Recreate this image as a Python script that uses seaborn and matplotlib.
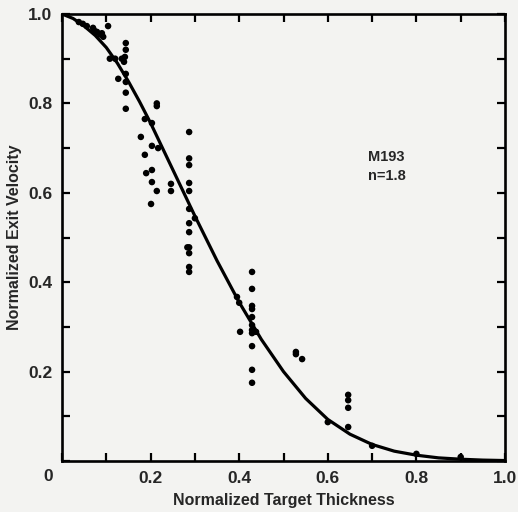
import numpy as np
import pandas as pd
import matplotlib
matplotlib.use("Agg")
import matplotlib.pyplot as plt
import seaborn as sns

# measured data points (normalized target thickness, normalized exit velocity)
thickness = [0.038, 0.047, 0.056, 0.070, 0.072, 0.079, 0.086, 0.090, 0.093, 0.104,
             0.108, 0.120, 0.127, 0.135, 0.140, 0.142, 0.144, 0.144, 0.144, 0.144,
             0.144, 0.144, 0.178, 0.187, 0.187, 0.190, 0.201, 0.203, 0.203, 0.203,
             0.203, 0.214, 0.214, 0.214, 0.217, 0.246, 0.246, 0.283, 0.287, 0.287,
             0.287, 0.287, 0.287, 0.287, 0.287, 0.287, 0.287, 0.287, 0.287, 0.287,
             0.300, 0.395, 0.400, 0.402, 0.429, 0.429, 0.429, 0.429, 0.429, 0.429,
             0.429, 0.429, 0.429, 0.429, 0.429, 0.438, 0.528, 0.528, 0.542, 0.600,
             0.646, 0.646, 0.646, 0.646, 0.700, 0.800, 0.900]
velocity = [0.982, 0.978, 0.973, 0.969, 0.964, 0.960, 0.954, 0.957, 0.949, 0.973,
            0.900, 0.900, 0.855, 0.900, 0.893, 0.904, 0.935, 0.920, 0.866, 0.848,
            0.824, 0.788, 0.725, 0.765, 0.685, 0.644, 0.575, 0.756, 0.705, 0.651,
            0.624, 0.794, 0.800, 0.604, 0.700, 0.620, 0.604, 0.478, 0.736, 0.677,
            0.662, 0.622, 0.604, 0.564, 0.532, 0.512, 0.478, 0.465, 0.434, 0.423,
            0.543, 0.367, 0.354, 0.289, 0.423, 0.385, 0.347, 0.340, 0.322, 0.304,
            0.293, 0.286, 0.257, 0.204, 0.175, 0.289, 0.244, 0.239, 0.228, 0.087,
            0.148, 0.136, 0.119, 0.076, 0.034, 0.016, 0.009]

# fitted curve
curve_x = [0.0, 0.025, 0.05, 0.075, 0.10, 0.125, 0.15, 0.175, 0.20, 0.25, 0.30,
           0.35, 0.40, 0.45, 0.50, 0.55, 0.60, 0.65, 0.70, 0.75, 0.80, 0.85,
           0.90, 0.95, 1.00]
curve_y = [1.0, 0.990, 0.973, 0.952, 0.925, 0.890, 0.849, 0.804, 0.756, 0.652,
           0.548, 0.448, 0.355, 0.272, 0.200, 0.140, 0.093, 0.060, 0.037, 0.022,
           0.013, 0.007, 0.004, 0.002, 0.001]

x_ticks_labeled = [0.2, 0.4, 0.6, 0.8, 1.0]
x_tick_labels = ["0.2", "0.4", "0.6", "0.8", "1.0"]
y_ticks_labeled = [0.2, 0.4, 0.6, 0.8, 1.0]
y_tick_labels = ["0.2", "0.4", "0.6", "0.8", "1.0"]
annotation = ["M193", "n=1.8"]

sns.set_style("ticks")
plt.rcParams['font.family'] = ['Liberation Sans', 'DejaVu Sans']

bg = "#f3f3f1"
fig = plt.figure(figsize=(5.18, 5.12), dpi=100, facecolor=bg)
ax = fig.add_axes([62/518, 51/512, 443/518, 447/512])
ax.set_facecolor(bg)

pts = pd.DataFrame({"x": thickness, "y": velocity})
crv = pd.DataFrame({"x": curve_x, "y": curve_y})

sns.lineplot(data=crv, x="x", y="y", ax=ax, color="black", linewidth=2.3, sort=True,
             solid_joinstyle="round", solid_capstyle="round")
sns.scatterplot(data=pts, x="x", y="y", ax=ax, color="black", s=22,
                edgecolor="none", linewidth=0)

ax.set_xlim(0, 1.0)
ax.set_ylim(0, 1.0)

minor = np.round(np.arange(0, 1.01, 0.1), 2)
ax.set_xticks(minor)
ax.set_yticks(minor)
ax.set_xticklabels(["" if v not in x_ticks_labeled else x_tick_labels[x_ticks_labeled.index(v)] for v in minor])
ax.set_yticklabels(["" if v not in y_ticks_labeled else y_tick_labels[y_ticks_labeled.index(v)] for v in minor])

ax.tick_params(axis="both", which="both", direction="in", length=6, width=1.6,
               top=True, right=True, labelsize=12.5, pad=7, color="black")
for lab in ax.get_xticklabels() + ax.get_yticklabels():
    lab.set_fontweight("bold")

for sp in ax.spines.values():
    sp.set_visible(True)
    sp.set_linewidth(1.9)
    sp.set_color("black")

ax.text(-0.032, -0.035, "0", transform=ax.transAxes, ha="center", va="center",
        fontsize=12.5, fontweight="bold")

ax.set_xlabel("Normalized Target Thickness", fontsize=11.5, fontweight="bold", labelpad=5)
ax.set_ylabel("Normalized Exit Velocity", fontsize=11.5, fontweight="bold", labelpad=4)

ax.text(0.69, 0.68, annotation[0], transform=ax.transAxes, fontsize=10.5,
        fontweight="bold", ha="left", va="center")
ax.text(0.69, 0.638, annotation[1], transform=ax.transAxes, fontsize=10.5,
        fontweight="bold", ha="left", va="center")

fig.savefig("out.png", dpi=100, facecolor=bg)
